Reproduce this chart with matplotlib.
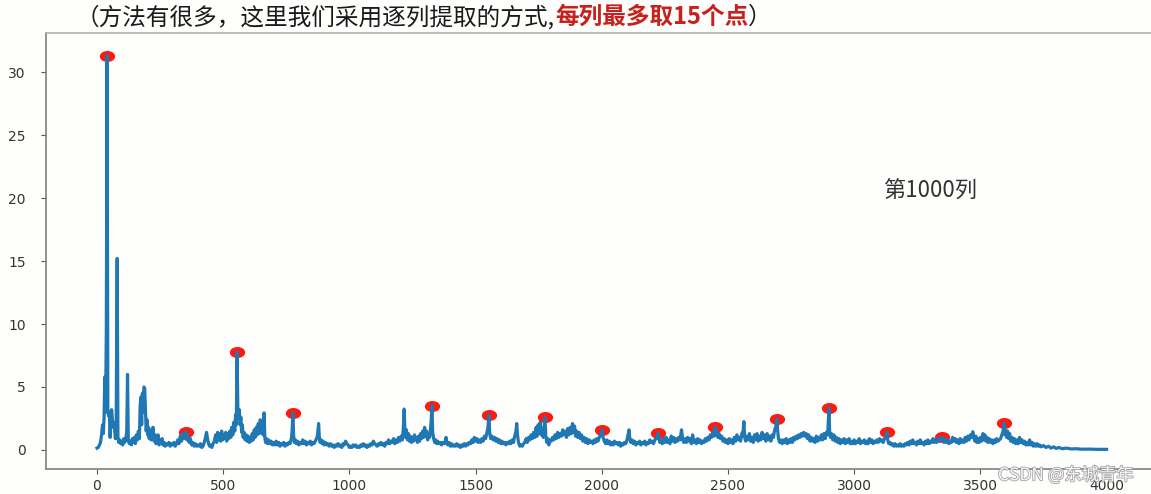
import matplotlib
matplotlib.use("Agg")
import matplotlib.pyplot as plt
import matplotlib.patheffects as pe
from matplotlib.path import Path
from matplotlib.transforms import Affine2D

# ---------------- data ----------------
seg_a = [(0,0.15),(5,0.2),(10,0.4),(14,0.6),(18,1.2),(22,2.0),(25,1.3),(28,2.5),(31,5.8),(34,3.0),(37,9.5),(40,31.3),
         (43,3.2),(46,2.7),(49,3.0),(52,1.0),(55,2.6),(58,3.2),(61,2.4),(64,1.8),(67,2.2),(70,1.5),(73,0.9),(76,2.0),
         (80,15.2),(83,1.0),(86,0.6),(90,0.8),(94,0.5),(98,0.7),(102,0.4),(106,0.9),(110,0.6),(114,0.8),(118,1.5),
         (121,6.0),(124,0.8),(128,0.5),(132,0.7),(136,0.4),(140,0.9),(144,0.6),(148,1.0),(152,0.5),(156,1.2),(160,0.8),
         (164,1.5),(168,0.9),(171,3.5),(174,4.2),(177,2.0),(180,4.5),(183,3.0),(186,5.0),(189,4.9),(192,3.2),(195,1.5),
         (198,2.4),(201,1.2),(204,1.8),(207,0.9),(210,1.6),(214,0.8),(218,1.3),(222,1.8),(226,0.7),(230,1.2),(234,0.5),
         (238,0.9),(242,1.2),(246,0.4),(250,0.8),(254,0.5),(258,0.9),(262,0.4),(266,0.6),(270,0.3),(275,0.5),(280,0.4),
         (285,0.6),(290,0.3),(295,0.5),(300,0.4)]
seg_b = [(305,0.6),(310,0.3),(315,0.5),(320,0.8),(325,0.5),(330,1.1),(335,0.7),(340,1.3),(345,0.9),(350,1.2),(353,1.43),
         (356,0.8),(360,1.1),(365,0.6),(370,0.9),(375,0.4),(380,0.6),(385,0.3),(390,0.5),(395,0.3),(400,0.4),(405,0.3),
         (410,0.5),(415,0.2),(420,0.3),(425,0.6),(430,1.0),(434,1.4),(438,0.9),(442,0.5),(446,0.3),(450,0.4),(455,0.2),
         (460,0.5),(465,0.7),(470,1.2),(474,0.6),(478,1.4),(482,0.8),(486,1.3),(490,0.7),(494,1.5),(498,0.8),(502,1.2),
         (506,0.9),(510,1.4),(514,0.7),(518,1.3),(522,0.9),(526,1.5),(530,1.0),(534,1.8),(538,1.2),(542,2.2),(546,1.5),
         (549,2.8),(552,2.0),(555,7.78),(558,3.4),(561,2.5),(564,3.2),(567,2.0),(570,2.6),(573,1.4),(576,2.0),(579,1.0)]
seg_c = [(583,1.4),(587,0.8),(591,1.2),(595,0.7),(599,1.1),(603,0.6),(607,1.0),(611,0.7),(615,1.3),(619,0.8),(623,1.6),
         (627,1.0),(631,1.8),(635,1.2),(639,2.1),(643,1.3),(647,2.4),(651,1.6),(655,2.2),(658,1.2),(662,2.95),(665,1.0),
         (668,0.6),(672,0.9),(676,0.5),(680,0.8),(685,0.5),(690,0.7),(695,0.4),(700,0.6),(705,0.4),(710,0.7),(715,0.4),
         (720,0.6),(725,0.3),(730,0.5),(735,0.4),(740,0.6),(745,0.3),(750,0.5),(755,0.4),(760,0.6),(765,0.5),(770,0.9),
         (773,1.5),(776,2.94),(779,1.2),(782,0.6),(786,0.8),(790,0.5),(795,0.7),(800,0.4)]
seg_d = [(805,0.6),(810,0.5),(815,0.8),(820,0.5),(825,0.7),(830,0.4),(835,0.6),(840,0.5),(845,0.7),(850,0.4),(855,0.6),
         (860,0.5),(865,0.7),(870,0.9),(874,1.2),(878,2.1),(881,1.0),(884,0.6),(888,0.8),(892,0.5),(896,0.7),(900,0.4),
         (905,0.6),(910,0.4),(915,0.5),(920,0.3),(925,0.5),(930,0.3),(935,0.4),(940,0.2),(945,0.4),(950,0.3),(955,0.5),
         (960,0.3),(965,0.4),(970,0.2),(975,0.5),(980,0.4),(985,0.7),(990,0.5),(995,0.4),(1000,0.2),(1005,0.3),(1010,0.2),
         (1015,0.4),(1020,0.3),(1025,0.4),(1030,0.2),(1035,0.3),(1040,0.2),(1045,0.4),(1050,0.3),(1055,0.5),(1060,0.3),
         (1065,0.4),(1070,0.2),(1075,0.4),(1080,0.3),(1085,0.5),(1090,0.4),(1095,0.7),(1100,0.5),(1105,0.4),(1110,0.3),
         (1115,0.5),(1120,0.4),(1125,0.6),(1130,0.4),(1135,0.5),(1140,0.3),(1145,0.6),(1150,0.5),(1155,0.8),(1160,0.5),
         (1165,0.7),(1170,0.6),(1175,0.9),(1180,0.5),(1185,0.8),(1190,0.6),(1195,1.0),(1200,0.7),(1205,1.1),(1210,0.8),
         (1214,1.8),(1217,3.25),(1220,1.5),(1223,1.0),(1226,1.6),(1230,0.8),(1234,1.3),(1238,0.7),(1242,1.1),(1246,0.6),
         (1250,1.0),(1254,0.7),(1258,1.2),(1262,0.8),(1266,1.0),(1270,0.6),(1274,1.1),(1278,0.7),(1282,1.3),(1286,0.9),
         (1290,1.5),(1294,1.0),(1298,1.8),(1302,1.1),(1306,1.5),(1310,0.8),(1314,1.3),(1318,1.0),(1321,1.6),(1324,2.3),
         (1327,3.5),(1330,1.4)]
seg_e = [(1334,0.9),(1338,0.6),(1342,0.8),(1346,0.5),(1350,0.7),(1355,0.5),(1360,0.6),(1365,0.4),(1370,0.6),(1375,0.5),
         (1380,0.7),(1383,1.0),(1386,0.5),(1390,0.4),(1395,0.6),(1400,0.3),(1405,0.5),(1410,0.3),(1415,0.4),(1420,0.3),
         (1425,0.5),(1430,0.3),(1435,0.4),(1440,0.2),(1445,0.4),(1450,0.3),(1455,0.5),(1460,0.3),(1465,0.5),(1470,0.4),
         (1475,0.6),(1480,0.5),(1485,0.8),(1490,0.6),(1495,1.0),(1500,0.7),(1505,0.9),(1510,0.6),(1515,0.8),(1520,0.6),
         (1525,0.9),(1530,0.7),(1535,1.1),(1540,0.9),(1545,1.4),(1549,1.8),(1553,2.78),(1556,1.3),(1560,0.9)]
seg_f = [(1565,1.1),(1570,0.8),(1575,1.0),(1580,0.7),(1585,0.9),(1590,0.6),(1595,0.8),(1600,0.5),(1605,0.7),(1610,0.5),
         (1615,0.6),(1620,0.4),(1625,0.6),(1630,0.5),(1635,0.7),(1640,0.5),(1645,0.8),(1650,0.6),(1655,1.1),(1660,1.5),
         (1663,2.1),(1666,1.2),(1670,0.6),(1675,0.3),(1680,0.4),(1685,0.3),(1690,0.5),(1695,0.6),(1700,0.9),(1705,0.6),
         (1710,1.0),(1715,0.8),(1720,1.2),(1725,0.9),(1730,1.4),(1735,1.0),(1740,1.8),(1744,1.1),(1748,2.0),(1752,1.3),
         (1756,2.2),(1760,1.2),(1764,1.7),(1768,1.0),(1771,1.8),(1775,2.6),(1778,1.2),(1782,0.6),(1786,0.9),(1790,0.4),
         (1795,0.8),(1800,0.7),(1805,1.0),(1810,0.8),(1815,1.2),(1820,0.9),(1825,1.4),(1830,1.0),(1835,1.3),(1840,1.1),
         (1845,1.6),(1850,1.2),(1855,1.5),(1860,1.0),(1865,1.7),(1870,1.2),(1875,1.8),(1880,1.3),(1884,2.1),(1888,1.4),
         (1892,1.9),(1896,1.1),(1900,1.5),(1905,1.0),(1910,1.4),(1915,0.9),(1920,1.2),(1925,0.7),(1930,1.0),(1935,0.6),
         (1940,0.9),(1945,0.5),(1950,0.8),(1955,0.6),(1960,0.7),(1965,0.5),(1970,0.8),(1975,0.6),(1980,0.9),(1985,0.7),
         (1990,1.0),(1995,1.2),(2001,1.6),(2005,1.0),(2010,0.7)]
seg_g = [(2015,0.5),(2020,0.8),(2025,0.5),(2030,0.7),(2035,0.4),(2040,0.6),(2045,0.4),(2050,0.7),(2055,0.5),(2060,0.6),
         (2065,0.4),(2070,0.6),(2075,0.3),(2080,0.5),(2085,0.4),(2090,0.6),(2095,0.5),(2100,0.8),(2104,1.2),(2108,1.6),
         (2111,0.9),(2115,0.6),(2120,0.8),(2125,0.5),(2130,0.7),(2135,0.4),(2140,0.6),(2145,0.5),(2150,0.7),(2155,0.4),
         (2160,0.6),(2165,0.5),(2170,0.7),(2175,0.4),(2180,0.6),(2185,0.5),(2190,0.8),(2195,0.6),(2200,0.7),(2205,0.5),
         (2210,0.8),(2215,0.9),(2220,1.1),(2223,1.35),(2226,0.9),(2230,0.6),(2235,0.8),(2240,0.5),(2245,0.9),(2250,0.6),
         (2255,1.0),(2260,0.6),(2265,0.8),(2270,0.5),(2275,1.1),(2280,0.7),(2285,1.0),(2290,0.6),(2295,0.9),(2300,0.7),
         (2305,1.0),(2310,0.8),(2316,1.6),(2320,0.9),(2325,0.6),(2330,0.9),(2335,0.6),(2340,1.0),(2345,0.7),(2350,0.9),
         (2355,0.5),(2360,1.2),(2365,0.6),(2370,0.8),(2375,0.5),(2380,0.9),(2385,0.6),(2390,0.8),(2395,0.5),(2400,0.7),
         (2405,0.6),(2410,0.9),(2415,0.7),(2420,1.0),(2425,0.8),(2430,1.2),(2435,1.0),(2440,1.4),(2445,1.1),(2449,1.83),
         (2452,1.2),(2456,1.5),(2460,1.0)]
seg_h = [(2465,1.3),(2470,0.9),(2475,1.1),(2480,0.7),(2485,0.9),(2490,0.6),(2495,0.8),(2500,0.5),(2505,0.9),(2510,0.6),
         (2515,0.8),(2520,0.5),(2525,1.0),(2530,0.7),(2535,1.2),(2540,0.8),(2545,1.0),(2550,0.7),(2555,1.3),(2560,1.5),
         (2563,2.25),(2566,1.0),(2570,0.7),(2575,1.1),(2580,0.8),(2585,1.3),(2590,0.7),(2595,1.0),(2600,0.6),(2605,1.2),
         (2610,0.8),(2615,1.3),(2620,0.7),(2625,1.1),(2630,0.8),(2635,1.4),(2640,0.9),(2645,1.2),(2650,0.7),(2655,1.3),
         (2660,0.8),(2665,1.1),(2670,0.7),(2675,1.2),(2680,1.0),(2685,1.6),(2690,1.9),(2694,2.46),(2697,1.5),(2700,0.9),
         (2705,0.6),(2710,0.8),(2715,0.5),(2720,0.8),(2725,0.6),(2730,0.9),(2735,0.5),(2740,0.8),(2745,0.6),(2750,0.9),
         (2755,0.6),(2760,1.0),(2765,0.8),(2770,1.1),(2775,0.9),(2780,1.2),(2785,1.0),(2790,1.3),(2795,1.1),(2800,1.4),
         (2805,1.1),(2810,1.3),(2815,0.9),(2820,1.2),(2825,0.7),(2830,1.0),(2835,0.7),(2840,0.9),(2845,0.6),(2850,1.1),
         (2855,0.7),(2860,1.0),(2865,0.8),(2870,1.2),(2875,0.8),(2880,1.3),(2885,0.9),(2890,1.4),(2895,1.2),(2900,3.33),
         (2903,1.4),(2906,1.0),(2910,1.3)]
seg_i = [(2915,0.8),(2920,1.2),(2925,0.7),(2930,1.0),(2935,0.6),(2940,0.9),(2945,0.5),(2950,0.8),(2955,0.6),(2960,0.9),
         (2965,0.5),(2970,0.8),(2975,0.6),(2980,0.9),(2985,0.5),(2990,0.7),(2995,0.5),(3000,0.8),(3005,0.5),(3010,0.7),
         (3015,0.6),(3020,0.9),(3025,0.5),(3030,0.7),(3035,0.6),(3040,0.8),(3045,0.5),(3050,0.7),(3055,0.5),(3060,0.9),
         (3065,0.6),(3070,0.8),(3075,0.5),(3080,0.7),(3085,0.6),(3090,0.8),(3095,0.6),(3100,0.9),(3105,0.7),(3110,0.8),
         (3115,0.6),(3120,0.9),(3125,1.0),(3130,1.43),(3133,0.8),(3137,0.5),(3142,0.6),(3147,0.4),(3152,0.5),(3157,0.3),
         (3162,0.5),(3167,0.3),(3172,0.4),(3177,0.3),(3182,0.5),(3187,0.3),(3192,0.4),(3197,0.3),(3202,0.5),(3207,0.4),
         (3212,0.6),(3217,0.4),(3222,0.7),(3227,0.5),(3232,0.8),(3237,0.5),(3242,0.6),(3247,0.4),(3252,0.7),(3257,0.5),
         (3262,0.8),(3267,0.5),(3272,0.6),(3277,0.4),(3282,0.7),(3287,0.5),(3292,0.8),(3297,0.5),(3302,0.7),(3307,0.6),
         (3312,0.9),(3317,0.6),(3322,0.8),(3327,0.6),(3332,0.9),(3337,0.7),(3342,0.9),(3348,1.0),(3352,0.8),(3356,0.6)]
seg_j = [(3360,0.9),(3365,0.6),(3370,0.8),(3375,0.5),(3380,0.7),(3385,0.6),(3390,1.0),(3395,0.7),(3400,0.9),(3405,0.6),
         (3410,0.8),(3415,0.5),(3420,0.9),(3425,0.6),(3430,0.8),(3435,0.6),(3440,1.0),(3445,0.7),(3450,1.1),(3455,0.8),
         (3460,1.2),(3465,1.0),(3470,1.45),(3474,1.0),(3478,0.7),(3482,1.1),(3486,0.6),(3490,0.9),(3495,0.6),(3500,1.0),
         (3505,0.7),(3510,1.3),(3514,0.8),(3518,1.2),(3522,0.7),(3526,1.0),(3530,0.6),(3535,0.9),(3540,0.6),(3545,0.8),
         (3550,0.5),(3555,0.8),(3560,0.6),(3565,0.9),(3570,0.7),(3575,0.8),(3580,0.9),(3585,1.2),(3590,1.5),(3594,2.14),
         (3597,1.2),(3600,1.6),(3604,1.0),(3608,1.5),(3612,0.9),(3616,1.3),(3620,0.7),(3625,1.0),(3630,0.6),(3635,0.9),
         (3640,0.5),(3645,0.8),(3650,0.5),(3655,1.0),(3660,0.6),(3665,0.8),(3670,0.5),(3675,0.7),(3680,0.4),(3685,0.6),
         (3690,0.4),(3695,0.8),(3700,0.4),(3705,0.6),(3710,0.3),(3715,0.5),(3720,0.3),(3725,0.5),(3730,0.3),(3735,0.4),
         (3740,0.25),(3750,0.35),(3760,0.2),(3770,0.3),(3780,0.15),(3790,0.25),(3800,0.12),(3810,0.2),(3825,0.1),
         (3840,0.15),(3860,0.08),(3880,0.1),(3900,0.06),(3930,0.07),(3960,0.05),(4000,0.05)]

peak_x = [40, 353, 555, 776, 1327, 1553, 1775, 2001, 2223, 2449, 2694, 2900, 3130, 3348, 3594]
peak_y = [31.3, 1.43, 7.78, 2.94, 3.5, 2.78, 2.6, 1.6, 1.35, 1.83, 2.46, 3.33, 1.43, 1.0, 2.14]

x_ticks = [0, 500, 1000, 1500, 2000, 2500, 3000, 3500, 4000]
y_ticks = [0, 5, 10, 15, 20, 25, 30]

title_black_1 = "（方法有很多，这里我们采用逐列提取的方式,"
title_red = "每列最多取15个点"
title_black_2 = "）"
column_label = "第1000列"
watermark = "CSDN @东城青年"

# ---------------- figure ----------------
segments = [seg_a, seg_b, seg_c, seg_d, seg_e, seg_f, seg_g, seg_h, seg_i, seg_j]
sig_x = [p[0] for s in segments for p in s]
sig_y = [p[1] for s in segments for p in s]

W, H = 1151, 494
fig = plt.figure(figsize=(W / 100, H / 100), dpi=100)
fig.patch.set_facecolor("#fefefc")
ax = fig.add_axes([46 / W, 25 / H, 1 - 46 / W, (469 - 33) / H])
ax.set_facecolor("#fefefc")

ell = Affine2D().scale(1.45, 1.0).transform_path(Path.unit_circle())
ax.plot(peak_x, peak_y, linestyle="none", marker=ell, markersize=10,
        markerfacecolor="#ff1a10", markeredgecolor="#ff1a10", zorder=2)
ax.plot(sig_x, sig_y, color="#1f77b4", lw=2.3, zorder=3, solid_joinstyle="round")

ax.set_xlim(-202, 4176)
ax.set_ylim(-1.51, 33.1)
ax.set_xticks(x_ticks)
ax.set_yticks(y_ticks)
ax.tick_params(axis="both", colors="#555555", labelcolor="#333333", labelsize=10)
ax.tick_params(axis="y", pad=11)
ax.spines["right"].set_visible(False)
for s in ["left", "bottom", "top"]:
    ax.spines[s].set_color("#808080")
    ax.spines[s].set_linewidth(1.2)
ax.spines["top"].set_color("#b0b0b0")

ax.text(3115, 20.6, column_label, fontsize=16, color="#333333", ha="left", va="center",
        family=["Noto Sans CJK SC", "DejaVu Sans"])

# title pieces placed side by side
renderer = fig.canvas.get_renderer()
x0 = 76 / W
ty = 1 - 17 / H
fam = ["Noto Sans CJK SC", "DejaVu Sans"]
t1 = fig.text(x0, ty, title_black_1, fontsize=17, color="#1a1a1a", va="center", ha="left", family=fam)
bb = t1.get_window_extent(renderer)
t2 = fig.text(bb.x1 / W, ty, title_red, fontsize=17, color="#c8201c", fontweight="bold",
              va="center", ha="left", family=fam)
bb = t2.get_window_extent(renderer)
fig.text(bb.x1 / W, ty, title_black_2, fontsize=17, color="#1a1a1a", va="center", ha="left", family=fam)

fig.text(998 / W, 1 - 475 / H, watermark, fontsize=12.5, color="#ffffff", va="center", ha="left",
         family=fam, alpha=0.9,
         path_effects=[pe.withStroke(linewidth=1.2, foreground="#9a9a9a")])

fig.savefig("out.png", dpi=100, facecolor=fig.get_facecolor())
